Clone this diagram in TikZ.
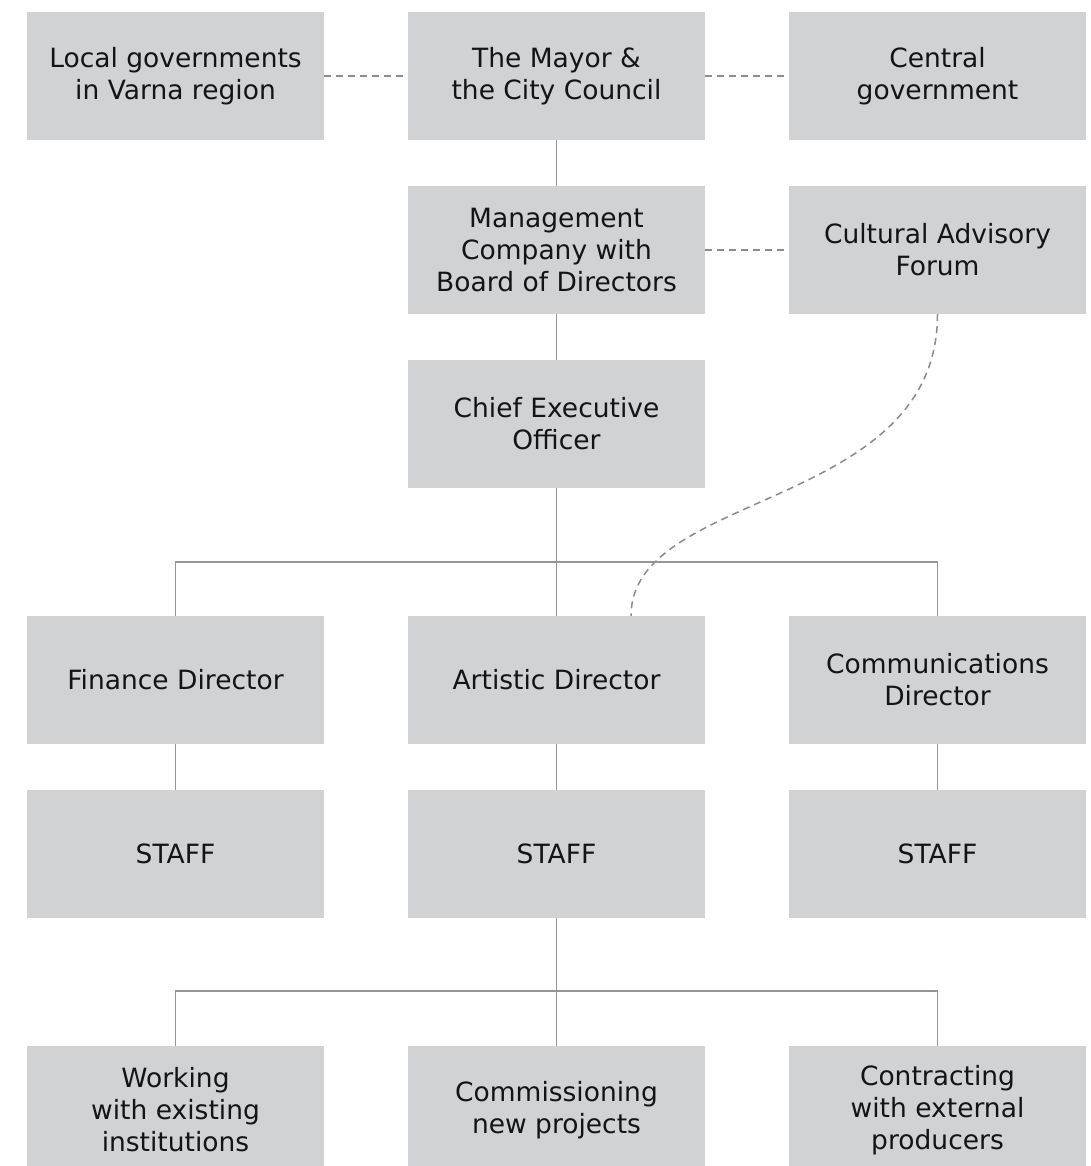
\documentclass[tikz,border=0pt]{standalone}
\usepackage{fontspec}
\setmainfont{DejaVu Sans}
\begin{document}
\begin{tikzpicture}[x=1pt,y=-1pt,
  box/.style={rectangle, fill=boxgray, minimum width=297pt, minimum height=128pt, inner sep=0pt, align=center, text=textblack, font=\fontsize{26.5}{32}\selectfont},
  solidline/.style={draw=linegray, line width=1.5pt},
  dashline/.style={draw=dashgray, line width=1.5pt, dash pattern=on 7pt off 5pt}]
\definecolor{boxgray}{HTML}{D1D2D4}
\definecolor{linegray}{HTML}{939598}
\definecolor{dashgray}{HTML}{8A8B8D}
\definecolor{textblack}{HTML}{141414}
\useasboundingbox (0,0) rectangle (1091,1166);
\fill[white] (0,0) rectangle (1091,1166);
% row 1
\node[box] (local) at (175.5,76) {Local governments\\in Varna region};
\node[box] (mayor) at (556.5,76) {The Mayor \&\\the City Council};
\node[box] (central) at (937.5,76) {Central\\government};
% row 2
\node[box] (mgmt) at (556.5,250) {Management\\Company with\\Board of Directors};
\node[box] (caf) at (937.5,250) {Cultural Advisory\\Forum};
% row 3
\node[box] (ceo) at (556.5,424) {Chief Executive\\Officer};
% row 4
\node[box] (fin) at (175.5,680) {Finance Director};
\node[box] (art) at (556.5,680) {Artistic Director};
\node[box] (com) at (937.5,680) {Communications\\Director};
% row 5
\node[box] (staffA) at (175.5,854) {STAFF};
\node[box] (staffB) at (556.5,854) {STAFF};
\node[box] (staffC) at (937.5,854) {STAFF};
% row 6
\node[box] (work) at (175.5,1110) {Working\\with existing\\institutions};
\node[box] (commi) at (556.5,1110) {Commissioning\\new projects};
\node[box] (contr) at (937.5,1110) {Contracting\\with external\\producers};
% bus coordinates
\coordinate (bus1) at (556.5,562);
\coordinate (bus2) at (556.5,991);
% dashed links
\draw[dashline] (local.east) -- (mayor.west);
\draw[dashline] (mayor.east) -- (central.west);
\draw[dashline] (mgmt.east) -- (caf.west);
\draw[dashline] (caf.south) .. controls +(0,196) and +(0,-126) .. ([xshift=74.5pt]art.north);
% solid links
\draw[solidline] (mayor) -- (mgmt);
\draw[solidline] (mgmt) -- (ceo);
\draw[solidline] (ceo) -- (art);
\draw[solidline] (fin.north) |- (bus1) -| (com.north);
\draw[solidline] (fin) -- (staffA);
\draw[solidline] (art) -- (staffB);
\draw[solidline] (com) -- (staffC);
\draw[solidline] (staffB) -- (commi);
\draw[solidline] (work.north) |- (bus2) -| (contr.north);
\end{tikzpicture}
\end{document}
